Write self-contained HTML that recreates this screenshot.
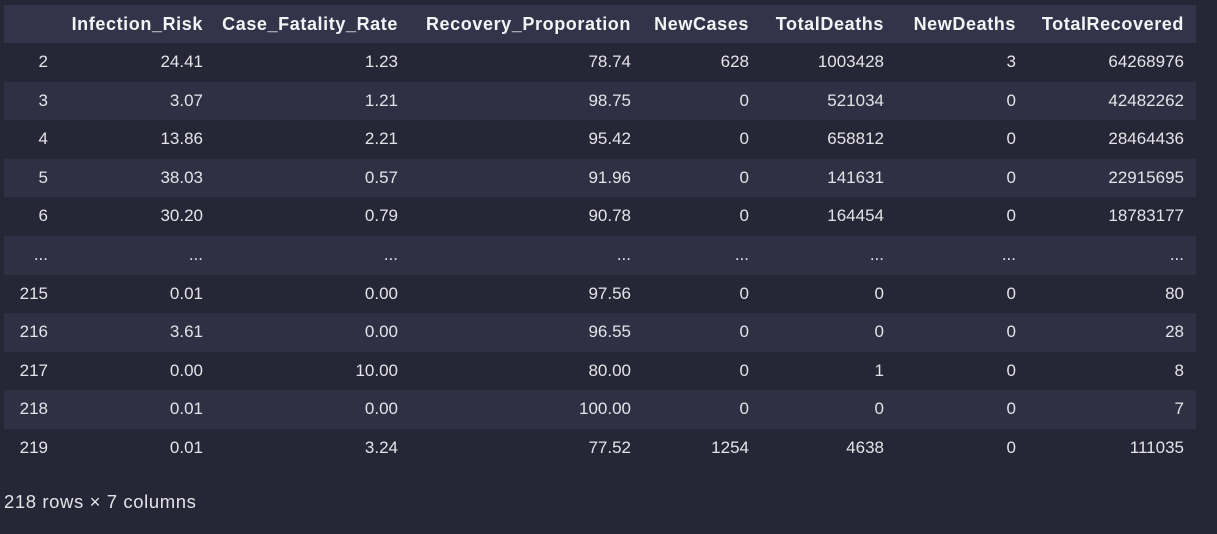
<!DOCTYPE html>
<html><head><meta charset="utf-8"><style>
html,body{margin:0;padding:0;width:1217px;height:534px;overflow:hidden;background:#262637;font-family:"Liberation Sans","DejaVu Sans",sans-serif;color:#e4e4e8;}
#tbl{position:absolute;left:4px;top:5px;width:1192px;}
.row{position:relative;height:38.6px;}
.hdr{height:38px;background:#33344a;font-weight:bold;color:#f4f4f6;}
.hdr .c{font-size:18px;letter-spacing:0.6px;}
.odd{background:#2f3043;}
.c{position:absolute;top:0;line-height:38px;font-size:17px;white-space:nowrap;text-align:right;}
#foot{position:absolute;left:4px;top:490px;font-size:18.5px;letter-spacing:0.6px;line-height:24px;color:#e4e4e8;}
</style></head><body>
<div id="tbl"></div>
<div id="foot">218 rows × 7 columns</div>
<script>
const columns=["","Infection_Risk","Case_Fatality_Rate","Recovery_Proporation","NewCases","TotalDeaths","NewDeaths","TotalRecovered"];
const rightEdges=[44,199,394,627,745,880,1012,1180];
const rows=[
["2","24.41","1.23","78.74","628","1003428","3","64268976"],
["3","3.07","1.21","98.75","0","521034","0","42482262"],
["4","13.86","2.21","95.42","0","658812","0","28464436"],
["5","38.03","0.57","91.96","0","141631","0","22915695"],
["6","30.20","0.79","90.78","0","164454","0","18783177"],
["...","...","...","...","...","...","...","..."],
["215","0.01","0.00","97.56","0","0","0","80"],
["216","3.61","0.00","96.55","0","0","0","28"],
["217","0.00","10.00","80.00","0","1","0","8"],
["218","0.01","0.00","100.00","0","0","0","7"],
["219","0.01","3.24","77.52","1254","4638","0","111035"]];
const tbl=document.getElementById('tbl');
function mkRow(vals,cls,name){
  const r=document.createElement('div');
  r.className='row '+cls;
  
  
  vals.forEach((v,i)=>{
    const c=document.createElement('div');
    c.className='c';
    c.style.right=(1192-rightEdges[i])+'px';
    c.textContent=v;
    
    
    r.appendChild(c);
  });
  tbl.appendChild(r);
}
mkRow(columns,'hdr','header-row');
rows.forEach((v,i)=>mkRow(v,i%2===1?'odd':'','data-row-'+v[0].replace(/\./g,'ellipsis')));
</script>
</body></html>
